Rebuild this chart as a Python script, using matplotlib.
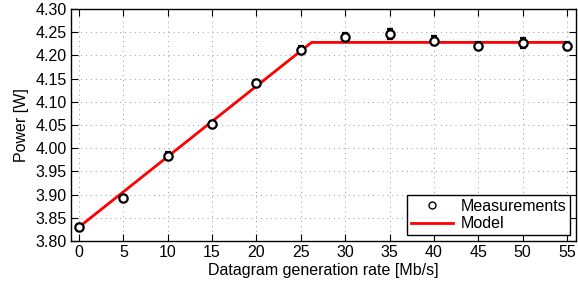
import matplotlib
matplotlib.use("Agg")
import matplotlib.pyplot as plt
from matplotlib.lines import Line2D

plt.rcParams['font.family'] = ['Liberation Sans', 'DejaVu Sans']

rate = [0, 5, 10, 15, 20, 25, 30, 35, 40, 45, 50, 55]
power = [3.830, 3.893, 3.984, 4.052, 4.140, 4.212, 4.239, 4.246, 4.232, 4.221, 4.227, 4.220]
err = [0.007, 0.005, 0.008, 0.007, 0.007, 0.008, 0.009, 0.011, 0.009, 0.008, 0.010, 0.008]

model_x = [0, 26.2, 55]
model_y = [3.830, 4.228, 4.228]

xticks = list(range(0, 60, 5))
yticks = [3.80, 3.85, 3.90, 3.95, 4.00, 4.05, 4.10, 4.15, 4.20, 4.25, 4.30]

fig = plt.figure(figsize=(5.78, 2.89), dpi=100)
ax = fig.add_axes([71/578, 48/289, 505/578, 232/289])

ax.errorbar(rate, power, yerr=err, fmt='o', mfc='white', mec='black', ecolor='black',
            mew=1.6, ms=6, capsize=2.5, elinewidth=1.0, capthick=1.5, label='Measurements', zorder=3)
ax.plot(model_x, model_y, color='#ff0000', lw=2, label='Model', zorder=2)

ax.set_xlim(-0.9, 56)
ax.set_ylim(3.80, 4.30)
ax.set_xticks(xticks)
ax.set_yticks(yticks)
ax.set_yticklabels([f"{v:.2f}" for v in yticks])
ax.grid(True, linestyle=(0, (1, 4)), color='#999999', linewidth=0.7)
ax.tick_params(direction='in', labelsize=11.5, length=5, top=True, right=True, pad=3)
for s in ax.spines.values():
    s.set_linewidth(1.0)

ax.set_xlabel('Datagram generation rate [Mb/s]', fontsize=11.5, labelpad=2)
ax.set_ylabel('Power [W]', fontsize=11.5, labelpad=5)

h_meas = Line2D([], [], marker='o', mfc='none', mec='black', ls='none', ms=5, mew=1.0)
h_model = Line2D([], [], color='#ff0000', lw=2)
leg = ax.legend([h_meas, h_model], ['Measurements', 'Model'], loc='lower right', fontsize=11.5,
                fancybox=False, framealpha=1, edgecolor='black', borderaxespad=0.35,
                handlelength=2.6, borderpad=0.25, labelspacing=0.15, handletextpad=0.5)
leg.get_frame().set_linewidth(1.0)

fig.savefig('out.png', dpi=100)
